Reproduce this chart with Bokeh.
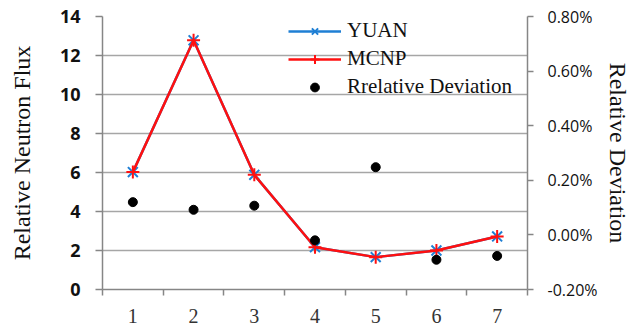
from bokeh.plotting import figure
from bokeh.models import (Range1d, LinearAxis, FixedTicker, NumeralTickFormatter,
                          Legend, LegendItem)
from bokeh.embed import file_html
from bokeh.resources import INLINE

# Position index along the core
positions = [1, 2, 3, 4, 5, 6, 7]
# Relative neutron flux from the two codes
yuan = [6.02, 12.78, 5.88, 2.17, 1.66, 2.00, 2.72]
mcnp = [6.02, 12.78, 5.88, 2.17, 1.66, 2.00, 2.72]
# Relative deviation between the codes (fraction)
deviation = [0.00120, 0.00092, 0.00107, -0.00020, 0.00248, -0.00091, -0.00077]

flux_ticks = [0, 2, 4, 6, 8, 10, 12, 14]
dev_ticks = [-0.002, 0.0, 0.002, 0.004, 0.006, 0.008]

SERIF = "Liberation Serif"
SANS = "Open Sans"
AXIS_GREY = "#868686"
GRID_GREY = "#a6a6a6"
BLUE = "#1f7fd4"
RED = "#ff1010"

p = figure(width=639, height=325, output_backend="svg", toolbar_location=None,
           x_range=Range1d(0.5, 7.5), y_range=Range1d(0, 14),
           min_border_left=102, min_border_right=112,
           min_border_top=16, min_border_bottom=36)
p.outline_line_color = None
p.background_fill_color = "white"
p.border_fill_color = "white"

p.extra_y_ranges = {"dev": Range1d(-0.002, 0.008)}

# Grid: horizontal lines only
p.xgrid.visible = False
p.ygrid.grid_line_color = GRID_GREY
p.ygrid.grid_line_width = 1.5
p.ygrid.ticker = FixedTicker(ticks=flux_ticks)

# Category axis: labels at centres, tick marks between categories
xa = p.xaxis[0]
xa.ticker = FixedTicker(ticks=positions,
                        minor_ticks=[0.5, 1.5, 2.5, 3.5, 4.5, 5.5, 6.5, 7.5])
xa.major_tick_line_color = None
xa.major_tick_out = 0
xa.major_tick_in = 0
xa.minor_tick_line_color = AXIS_GREY
xa.minor_tick_line_width = 1.5
xa.minor_tick_out = 6
xa.minor_tick_in = 0
xa.axis_line_color = AXIS_GREY
xa.axis_line_width = 1.5
xa.major_label_standoff = 13
xa.major_label_text_font = SERIF
xa.major_label_text_font_size = "20px"
xa.major_label_text_color = "#333333"

ya = p.yaxis[0]
ya.ticker = FixedTicker(ticks=flux_ticks)
ya.minor_tick_line_color = None
ya.major_tick_line_color = AXIS_GREY
ya.major_tick_line_width = 1.5
ya.major_tick_out = 7
ya.major_tick_in = 0
ya.axis_line_color = AXIS_GREY
ya.axis_line_width = 1.5
ya.major_label_standoff = 15
ya.major_label_text_font = SANS
ya.major_label_text_font_size = "18px"
ya.major_label_text_font_style = "bold"
ya.major_label_text_color = "#111111"
ya.axis_label = "Relative Neutron Flux"
ya.axis_label_text_font = SERIF
ya.axis_label_text_font_size = "24px"
ya.axis_label_text_font_style = "normal"
ya.axis_label_text_color = "#111111"
ya.axis_label_standoff = 22

ra = LinearAxis(y_range_name="dev", ticker=FixedTicker(ticks=dev_ticks),
                formatter=NumeralTickFormatter(format="0.00%"))
ra.minor_tick_line_color = None
ra.major_tick_line_color = AXIS_GREY
ra.major_tick_line_width = 1.5
ra.major_tick_out = 6
ra.major_tick_in = 0
ra.axis_line_color = AXIS_GREY
ra.axis_line_width = 1.5
ra.major_label_standoff = 14
ra.major_label_text_font = SANS
ra.major_label_text_font_size = "16px"
ra.major_label_text_color = "#111111"
ra.axis_label = "Relative Deviation"
ra.axis_label_text_font = SERIF
ra.axis_label_text_font_size = "24px"
ra.axis_label_text_font_style = "normal"
ra.axis_label_text_color = "#111111"
ra.axis_label_standoff = 4
p.add_layout(ra, "right")

# Series
yl = p.line(positions, yuan, line_color=BLUE, line_width=2.5)
ym = p.scatter(positions, yuan, marker="x", size=14, line_color=BLUE, line_width=2)
ml = p.line(positions, mcnp, line_color=RED, line_width=2.5)
mm = p.scatter(positions, mcnp, marker="cross", size=13, line_color=RED, line_width=2)
dd = p.scatter(positions, deviation, y_range_name="dev", marker="circle", size=9,
               fill_color="black", line_color="black")

legend = Legend(items=[
    LegendItem(label="YUAN", renderers=[yl, ym]),
    LegendItem(label="MCNP", renderers=[ml, mm]),
    LegendItem(label="Rrelative Deviation", renderers=[dd]),
], location=(186, 190))
legend.background_fill_alpha = 0
legend.border_line_color = None
legend.padding = 0
legend.margin = 0
legend.spacing = 3
legend.glyph_width = 53
legend.glyph_height = 22
legend.label_standoff = 6
legend.label_text_font = SERIF
legend.label_text_font_size = "21px"
legend.label_text_color = "#111111"
legend.label_height = 22
p.add_layout(legend, "center")

open("out.html", "w").write(file_html(p, INLINE))
